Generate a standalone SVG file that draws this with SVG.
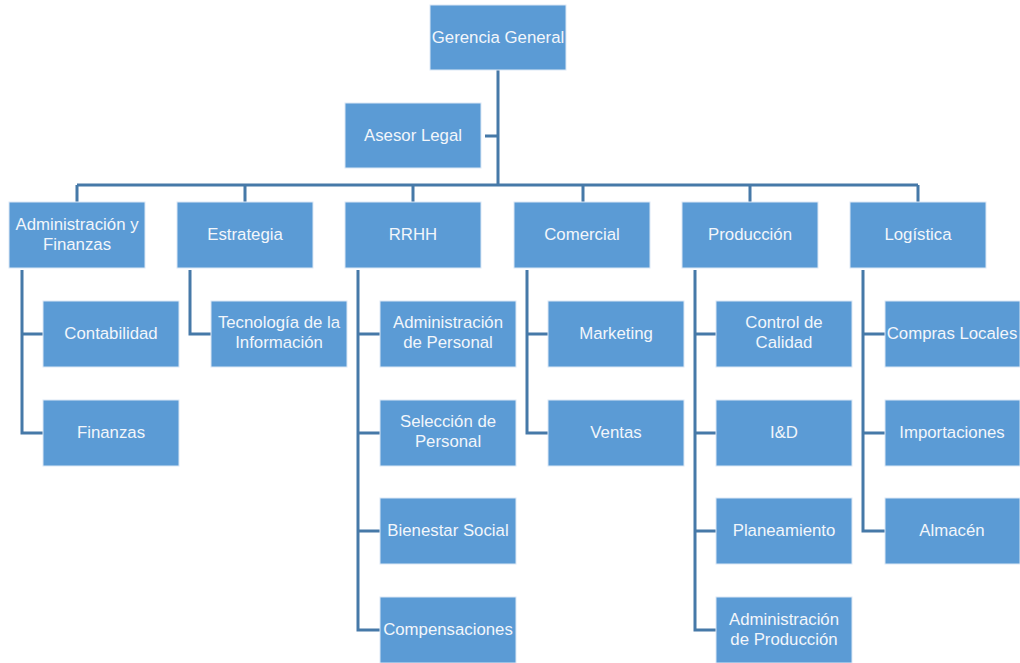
<svg xmlns="http://www.w3.org/2000/svg" width="1020" height="663" viewBox="0 0 1020 663">
<style>
.b{fill:#5B9BD5;stroke:#DCE8F5;stroke-width:1}
.t{font-family:"Liberation Sans",Arial,sans-serif;font-size:16.8px;fill:#F2F6FB;text-anchor:middle}
.c{fill:none;stroke:#4679A8;stroke-width:3}
</style>
<rect width="1020" height="663" fill="#fff"/>
<g id="connectors" class="c">
<path d="M498 70V185M498 136H485M77 185H918M77 185V202M245 185V202M413 185V202M583 185V202M750 185V202M918 185V202"/>
<path d="M22 270V433H43M22 334H43"/>
<path d="M190 270V334H211"/>
<path d="M358 270V630H380M358 334H380M358 433H380M358 531H380"/>
<path d="M527 270V433H548M527 334H548"/>
<path d="M695 270V630H716M695 334H716M695 433H716M695 531H716"/>
<path d="M863 270V531H885M863 334H885M863 433H885"/>
</g>
<g id="n0"><rect class="b" x="430" y="5" width="136" height="65"/><text class="t" x="498" y="43">Gerencia General</text></g>
<g id="n1"><rect class="b" x="345" y="103" width="136" height="65"/><text class="t" x="413" y="141">Asesor Legal</text></g>
<g id="n2"><rect class="b" x="9" y="202" width="136" height="66"/><text class="t" x="77" y="230">Administración y</text><text class="t" x="77" y="250">Finanzas</text></g>
<g id="n3"><rect class="b" x="177" y="202" width="136" height="66"/><text class="t" x="245" y="240">Estrategia</text></g>
<g id="n4"><rect class="b" x="345" y="202" width="136" height="66"/><text class="t" x="413" y="240">RRHH</text></g>
<g id="n5"><rect class="b" x="514" y="202" width="136" height="66"/><text class="t" x="582" y="240">Comercial</text></g>
<g id="n6"><rect class="b" x="682" y="202" width="136" height="66"/><text class="t" x="750" y="240">Producción</text></g>
<g id="n7"><rect class="b" x="850" y="202" width="136" height="66"/><text class="t" x="918" y="240">Logística</text></g>
<g id="n8"><rect class="b" x="43" y="301" width="136" height="66"/><text class="t" x="111" y="339">Contabilidad</text></g>
<g id="n9"><rect class="b" x="43" y="400" width="136" height="66"/><text class="t" x="111" y="438">Finanzas</text></g>
<g id="n10"><rect class="b" x="211" y="301" width="136" height="66"/><text class="t" x="279" y="328">Tecnología de la</text><text class="t" x="279" y="348">Información</text></g>
<g id="n11"><rect class="b" x="380" y="301" width="136" height="66"/><text class="t" x="448" y="328">Administración</text><text class="t" x="448" y="348">de Personal</text></g>
<g id="n12"><rect class="b" x="380" y="400" width="136" height="66"/><text class="t" x="448" y="427">Selección de</text><text class="t" x="448" y="447">Personal</text></g>
<g id="n13"><rect class="b" x="380" y="498" width="136" height="66"/><text class="t" x="448" y="536">Bienestar Social</text></g>
<g id="n14"><rect class="b" x="380" y="597" width="136" height="66"/><text class="t" x="448" y="635">Compensaciones</text></g>
<g id="n15"><rect class="b" x="548" y="301" width="136" height="66"/><text class="t" x="616" y="339">Marketing</text></g>
<g id="n16"><rect class="b" x="548" y="400" width="136" height="66"/><text class="t" x="616" y="438">Ventas</text></g>
<g id="n17"><rect class="b" x="716" y="301" width="136" height="66"/><text class="t" x="784" y="328">Control de</text><text class="t" x="784" y="348">Calidad</text></g>
<g id="n18"><rect class="b" x="716" y="400" width="136" height="66"/><text class="t" x="784" y="438">I&amp;D</text></g>
<g id="n19"><rect class="b" x="716" y="498" width="136" height="66"/><text class="t" x="784" y="536">Planeamiento</text></g>
<g id="n20"><rect class="b" x="716" y="597" width="136" height="66"/><text class="t" x="784" y="625">Administración</text><text class="t" x="784" y="645">de Producción</text></g>
<g id="n21"><rect class="b" x="885" y="301" width="135" height="66"/><text class="t" x="952" y="339">Compras Locales</text></g>
<g id="n22"><rect class="b" x="885" y="400" width="135" height="66"/><text class="t" x="952" y="438">Importaciones</text></g>
<g id="n23"><rect class="b" x="885" y="498" width="135" height="66"/><text class="t" x="952" y="536">Almacén</text></g>
</svg>
